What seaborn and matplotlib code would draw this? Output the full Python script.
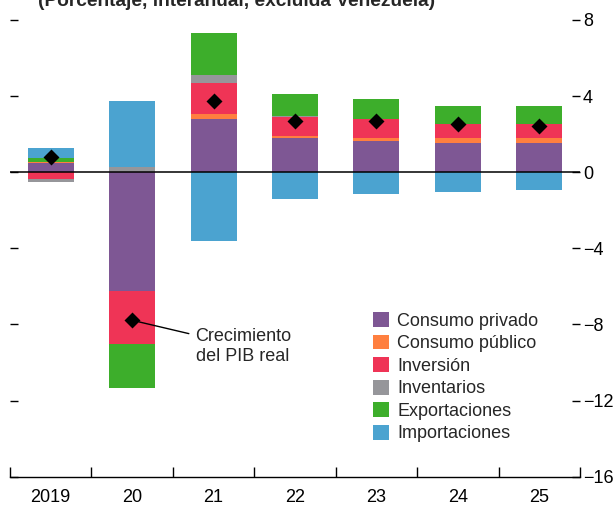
import matplotlib
matplotlib.use("Agg")
import matplotlib.pyplot as plt
from matplotlib.patches import Patch
import numpy as np
import pandas as pd
import seaborn as sns

# Contributions to real GDP growth (percentage points)
years = ["2019", "20", "21", "22", "23", "24", "25"]
consumo_privado = [0.48, -6.24, 2.80, 1.80, 1.64, 1.53, 1.53]
consumo_publico = [0.07, 0.00, 0.26, 0.12, 0.16, 0.27, 0.27]
inversion = [-0.36, -2.77, 1.63, 0.98, 1.00, 0.73, 0.73]
inventarios = [-0.16, 0.27, 0.42, 0.05, 0.00, 0.00, 0.00]
exportaciones = [0.21, -2.31, 2.20, 1.16, 1.05, 0.95, 0.95]
importaciones = [0.51, 3.47, -3.60, -1.41, -1.13, -1.02, -0.92]
pib_real = [0.80, -7.78, 3.72, 2.69, 2.69, 2.55, 2.43]

series_names = ["Consumo privado", "Consumo público", "Inversión",
                "Inventarios", "Exportaciones", "Importaciones"]
series_values = [consumo_privado, consumo_publico, inversion,
                 inventarios, exportaciones, importaciones]
series_colors = ["#7E5794", "#FF7F3F", "#EF3456", "#96969A", "#3DAE2B", "#4BA3D0"]

y_ticks = [8, 4, 0, -4, -8, -12, -16]

sns.set_theme(style="white")
plt.rcParams["font.family"] = ["Liberation Sans", "DejaVu Sans"]
plt.rcParams["font.size"] = 13

fig = plt.figure(figsize=(6.14, 5.08), dpi=100)
ax = fig.add_axes([10 / 614, 1 - 476.7 / 508, 570 / 614, 456.7 / 508])

# Stack positive contributions upward and negative ones downward
pos_base = np.zeros(len(years))
neg_base = np.zeros(len(years))
for name, vals, color in zip(series_names, series_values, series_colors):
    vals = np.asarray(vals, dtype=float)
    bottoms = np.where(vals >= 0, pos_base, neg_base)
    df = pd.DataFrame({"year": years, "value": vals, "base": bottoms})
    sns.barplot(data=df, x="year", y="value", bottom=df["base"].values,
                color=color, width=0.565, saturation=1, linewidth=0,
                ax=ax, zorder=2)
    pos_base = pos_base + np.where(vals >= 0, vals, 0)
    neg_base = neg_base + np.where(vals < 0, vals, 0)

ax.axhline(0, color="black", lw=1.1, zorder=3)

# Real GDP growth markers
gdp_df = pd.DataFrame({"year": years, "gdp": pib_real})
sns.pointplot(data=gdp_df, x="year", y="gdp", color="black", marker="D",
              markersize=6.5, linestyle="none", ax=ax, zorder=5)

ax.set_xlim(-0.5, len(years) - 0.5)
ax.set_ylim(-16, 8)
ax.set_xlabel("")
ax.set_ylabel("")

for side in ["top", "left", "right"]:
    ax.spines[side].set_visible(False)
ax.spines["bottom"].set_color("black")
ax.spines["bottom"].set_linewidth(1.0)

ax.set_yticks(y_ticks)
ax.set_yticklabels([f"{t}".replace("-", "\u2212") for t in y_ticks])
ax.tick_params(axis="y", left=True, right=True, labelleft=False, labelright=True,
               direction="in", length=6, width=1, color="black", pad=2,
               labelsize=13, labelcolor="black")

ax.set_xticks(range(len(years)))
ax.set_xticklabels(years)
ax.set_xticks(np.arange(-0.5, len(years), 1.0), minor=True)
ax.tick_params(axis="x", which="major", length=0, pad=9, labelsize=13,
               labelcolor="black")
ax.tick_params(axis="x", which="minor", bottom=True, direction="in", length=7,
               width=1, color="black")

# Annotation pointing to the 2020 growth marker
ax.annotate("Crecimiento\ndel PIB real", xy=(1.0, pib_real[1]),
            xytext=(2.36, -9.15), textcoords="data", ha="center", va="center",
            fontsize=13, linespacing=1.2,
            arrowprops=dict(arrowstyle="-", color="black", lw=1,
                            shrinkA=2, shrinkB=5))

handles = [Patch(facecolor=c, edgecolor="none", label=n)
           for n, c in zip(series_names, series_colors)]
fig.legend(handles=handles, loc="upper left",
           bbox_to_anchor=(373 / 614, 1 - 312 / 508), frameon=False,
           fontsize=13, handlelength=0.9, handleheight=0.9,
           handletextpad=0.45, labelspacing=0.265, borderpad=0,
           borderaxespad=0)

fig.text(38 / 614, 1 - 6 / 508, "(Porcentaje, interanual, excluida Venezuela)",
         ha="left", va="baseline", fontsize=13.8, fontweight="bold")

fig.savefig("out.png", dpi=100)
